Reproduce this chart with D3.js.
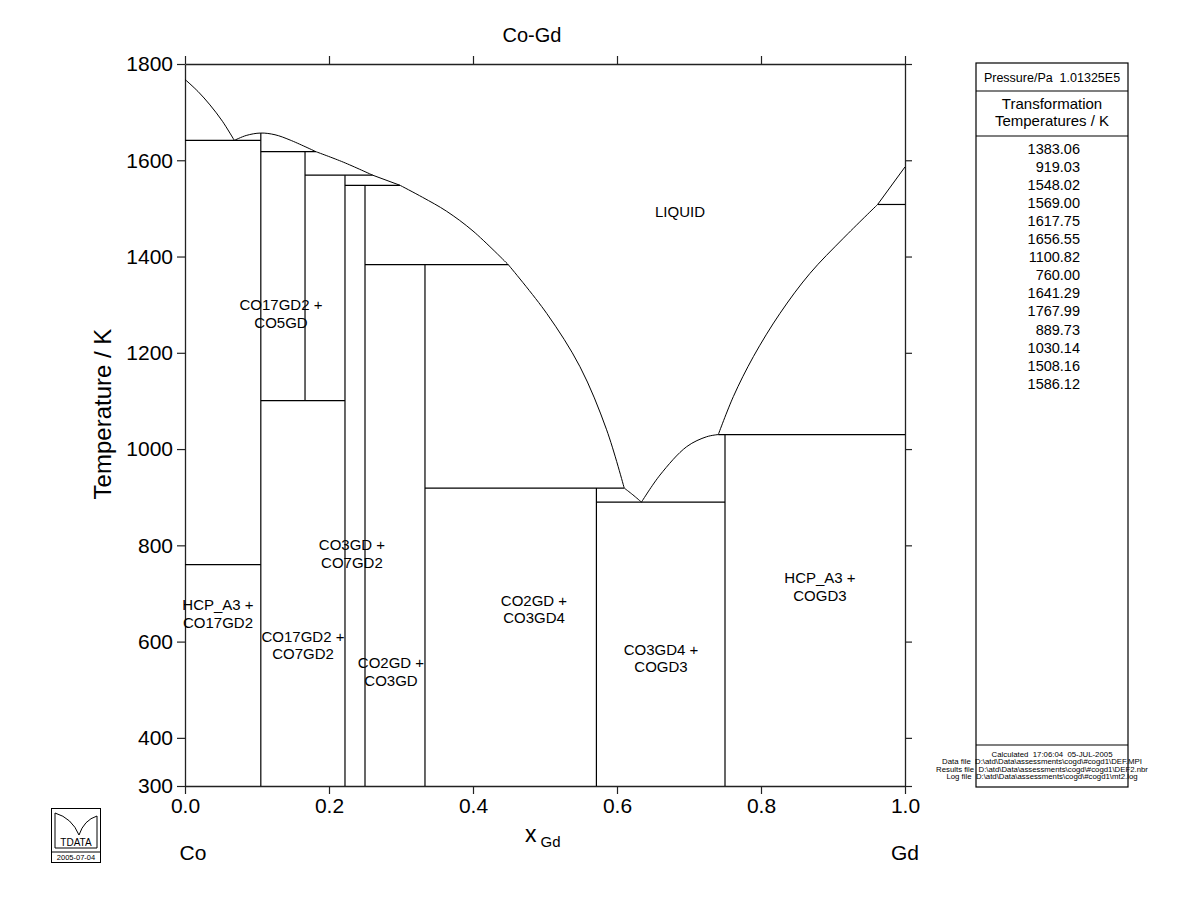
<!DOCTYPE html>
<html>
<head>
<meta charset="utf-8">
<script src="https://cdn.jsdelivr.net/npm/d3@7/dist/d3.min.js"></script>
<style>
  html,body{margin:0;padding:0;background:#fff;}
  svg text{font-family:"Liberation Sans",Arial,sans-serif;fill:#000;}
</style>
</head>
<body>
<svg id="chart" width="1200" height="923"></svg>
<script>
// ---------------- DATA ----------------
const xTicks = [0, 0.2, 0.4, 0.6, 0.8, 1.0];
const yTicks = [300, 400, 600, 800, 1000, 1200, 1400, 1600, 1800];

// liquidus / solvus curve segments, [x_Gd, T/K]
const curveCoLiq    = [[0,1767.99],[0.018,1743],[0.0347,1715],[0.052,1681],[0.0685,1641.29]];
const curveCo17Liq  = [[0.0685,1641.29],[0.085,1651.5],[0.105,1656.55],[0.125,1653],[0.146,1642],[0.182,1617.75]];
const curveCo5Liq   = [[0.182,1617.75],[0.22,1596],[0.2607,1569.00]];
const curveCo7Liq   = [[0.2607,1569.00],[0.2986,1548.02]];
const curveCo3Liq   = [[0.2986,1548.02],[0.33,1523],[0.3634,1494],[0.40,1453],[0.449,1383.06]];
const curveCo2Liq   = [[0.449,1383.06],[0.5023,1282],[0.5486,1171],[0.5856,1040],[0.61,919.03]];
const curveCo34Liq  = [[0.61,919.03],[0.622,905],[0.634,889.73]];
const curveCoGd3Liq = [[0.634,889.73],[0.6597,946],[0.6968,1005],[0.7245,1025.6],[0.7407,1030.14]];
const curveHcpLiq   = [[0.7407,1030.14],[0.7616,1109],[0.7894,1192],[0.8264,1282],[0.868,1365],[0.9144,1438],[0.962,1508.16]];
const curveBccLiq   = [[0.962,1508.16],[1.0,1586.12]];
const curves = [curveCoLiq, curveCo17Liq, curveCo5Liq, curveCo7Liq, curveCo3Liq, curveCo2Liq, curveCo34Liq, curveCoGd3Liq, curveHcpLiq, curveBccLiq];

// invariant (horizontal) lines: T, x from, x to
const invT  = [1641.29, 1617.75, 1569.00, 1548.02, 1383.06, 1100.82, 919.03, 889.73, 1030.14, 760.00, 1508.16];
const invX1 = [0,       0.1053,  0.1667,  0.2222,  0.25,    0.1053,  0.3333, 0.5714, 0.7407,  0,      0.962];
const invX2 = [0.1053,  0.182,   0.2607,  0.2986,  0.449,   0.2222,  0.61,   0.75,   1.0,     0.1053, 1.0];

// stoichiometric compounds: x, top T, bottom T
const compX    = [0.1053, 0.1667, 0.2222, 0.25, 0.3333, 0.5714, 0.75];
const compTop  = [1656.55, 1617.75, 1569.00, 1548.02, 1383.06, 919.03, 1030.14];
const compBot  = [300, 1100.82, 300, 300, 300, 300, 300];

// phase-region labels
const regionText = [["LIQUID"],["CO17GD2 +","CO5GD"],["CO3GD +","CO7GD2"],["HCP_A3 +","CO17GD2"],["CO17GD2 +","CO7GD2"],
                    ["CO2GD +","CO3GD"],["CO2GD +","CO3GD4"],["CO3GD4 +","COGD3"],["HCP_A3 +","COGD3"]];
const regionX = [0.6875, 0.1333, 0.2319, 0.0458, 0.1639, 0.2861, 0.4847, 0.6611, 0.8819];
const regionT = [1482, 1288, 790, 665, 600, 545, 675, 573, 721];

// transformation temperatures table
const transTemps = ["1383.06","919.03","1548.02","1569.00","1617.75","1656.55","1100.82","760.00","1641.29","1767.99","889.73","1030.14","1508.16","1586.12"];
const footerLines = ["Calculated  17:06:04  05-JUL-2005",
  "Data file  D:\\atd\\Data\\assessments\\cogd\\#cogd1\\DEF.MPI",
  "Results file  D:\\atd\\Data\\assessments\\cogd\\#cogd1\\DEF2.nbr",
  "Log file  D:\\atd\\Data\\assessments\\cogd\\#cogd1\\mt2.log"];

// ---------------- DRAW ----------------
const svg = d3.select("#chart");
const x = d3.scaleLinear().domain([0,1]).range([185,905]);
const y = d3.scaleLinear().domain([300,1800]).range([786,64]);

const g = svg.append("g");

// axes
const axStyle = sel => {
  sel.select(".domain").attr("stroke","#222").attr("stroke-width",1.3);
  sel.selectAll(".tick line").attr("stroke","#222").attr("stroke-width",1.2);
  sel.selectAll(".tick text").style("font-size","21px").attr("fill","#000");
};
g.append("g").attr("transform","translate(185,0)")
  .call(d3.axisLeft(y).tickValues(yTicks).tickFormat(d3.format("d")).tickSize(8).tickSizeOuter(0).tickPadding(4))
  .call(axStyle);
g.append("g").attr("transform","translate(905,0)")
  .call(d3.axisRight(y).tickValues(yTicks).tickFormat("").tickSize(7).tickSizeOuter(0))
  .call(axStyle);
g.append("g").attr("transform","translate(0,786)")
  .call(d3.axisBottom(x).tickValues(xTicks).tickFormat(d3.format(".1f")).tickSize(8).tickSizeOuter(0).tickPadding(4))
  .call(axStyle);
g.append("g").attr("transform","translate(0,64)")
  .call(d3.axisTop(x).tickValues(xTicks).tickFormat("").tickSize(8).tickSizeOuter(0))
  .call(axStyle);

// curves
const line = d3.line().x(d=>x(d[0])).y(d=>y(d[1])).curve(d3.curveCatmullRom.alpha(0.5));
g.selectAll("path.curve").data(curves).join("path").attr("class","curve")
  .attr("d",line).attr("fill","none").attr("stroke","#000").attr("stroke-width",1);

// invariant lines
g.selectAll("line.inv").data(invT).join("line").attr("class","inv")
  .attr("x1",(d,i)=>x(invX1[i])).attr("x2",(d,i)=>x(invX2[i]))
  .attr("y1",d=>y(d)).attr("y2",d=>y(d))
  .attr("stroke","#000").attr("stroke-width",1.2);

// compound lines
g.selectAll("line.comp").data(compX).join("line").attr("class","comp")
  .attr("x1",d=>x(d)).attr("x2",d=>x(d))
  .attr("y1",(d,i)=>y(compTop[i])).attr("y2",(d,i)=>y(compBot[i]))
  .attr("stroke","#000").attr("stroke-width",1.2);

// region labels
regionText.forEach((lines,i)=>{
  const t = g.append("text").attr("text-anchor","middle").style("font-size","15px")
    .attr("x",x(regionX[i])).attr("y",y(regionT[i]));
  lines.forEach((s,j)=>{
    t.append("tspan").attr("x",x(regionX[i])).attr("dy", j===0?0:17.5).text(s);
  });
});

// titles
svg.append("text").attr("x",532).attr("y",42).attr("text-anchor","middle").style("font-size","20px").text("Co-Gd");
svg.append("text").attr("transform","translate(111,414) rotate(-90)").attr("text-anchor","middle")
  .style("font-size","24px").text("Temperature / K");
const xl = svg.append("text").attr("x",525).attr("y",842).style("font-size","23px");
xl.append("tspan").text("x");
xl.append("tspan").attr("dx",4).attr("dy",5).style("font-size","15px").text("Gd");
svg.append("text").attr("x",193).attr("y",860).attr("text-anchor","middle").style("font-size","21px").text("Co");
svg.append("text").attr("x",905).attr("y",860).attr("text-anchor","middle").style("font-size","21px").text("Gd");

// right panel
const px0 = 976, px1 = 1128, pcx = (px0+px1)/2;
const panel = svg.append("g");
panel.append("rect").attr("x",px0).attr("y",63).attr("width",px1-px0).attr("height",787-63)
  .attr("fill","none").attr("stroke","#000").attr("stroke-width",1.2);
[91,136,745].forEach(yy=>panel.append("line").attr("x1",px0).attr("x2",px1).attr("y1",yy).attr("y2",yy)
  .attr("stroke","#000").attr("stroke-width",1.2));
panel.append("text").attr("x",pcx).attr("y",82).attr("text-anchor","middle").style("font-size","12.5px")
  .attr("xml:space","preserve").text("Pressure/Pa  1.01325E5");
panel.append("text").attr("x",pcx).attr("y",109).attr("text-anchor","middle").style("font-size","15px").text("Transformation");
panel.append("text").attr("x",pcx).attr("y",126).attr("text-anchor","middle").style("font-size","15px").text("Temperatures / K");
panel.selectAll("text.tt").data(transTemps).join("text").attr("class","tt")
  .attr("x",1080).attr("y",(d,i)=>153.5+i*18.1).attr("text-anchor","end").style("font-size","14.5px").text(d=>d);
panel.selectAll("text.ft").data(footerLines).join("text").attr("class","ft")
  .attr("x",(d,i)=> i===0 ? pcx : pcx-10).attr("y",(d,i)=>757+i*7.3).attr("text-anchor","middle")
  .attr("xml:space","preserve").style("font-size","7.8px").text(d=>d);

// logo
const logo = svg.append("g");
logo.append("rect").attr("x",51.5).attr("y",808.5).attr("width",49).attr("height",54).attr("fill","none").attr("stroke","#000").attr("stroke-width",1);
logo.append("line").attr("x1",51.5).attr("x2",100.5).attr("y1",852).attr("y2",852).attr("stroke","#000");
logo.append("path").attr("d","M55,848 L55,813 Q72,818 79,835 Q84,820 97,816 L97,848")
  .attr("fill","none").attr("stroke","#000").attr("stroke-width",1);
logo.append("line").attr("x1",55).attr("x2",97).attr("y1",848).attr("y2",848).attr("stroke","#000");
logo.append("text").attr("x",76).attr("y",846).attr("text-anchor","middle").style("font-size","10px").text("TDATA");
logo.append("text").attr("x",76).attr("y",860).attr("text-anchor","middle").style("font-size","7.5px").text("2005-07-04");
</script>
</body>
</html>
